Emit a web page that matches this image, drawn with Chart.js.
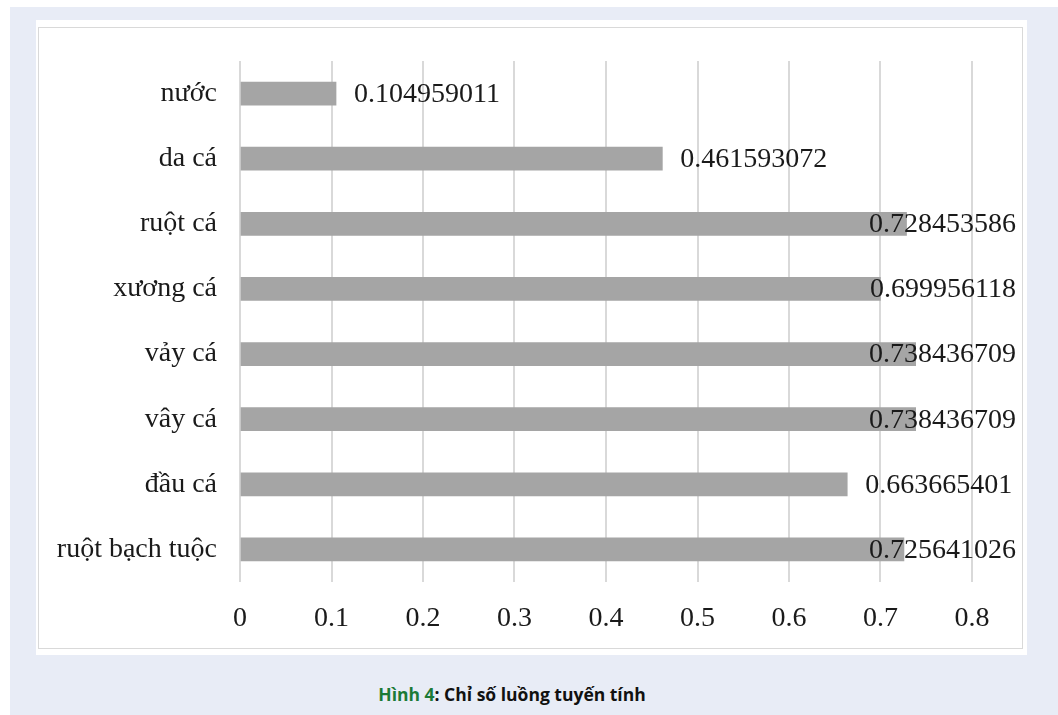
<!DOCTYPE html>
<html lang="vi">
<head>
<meta charset="utf-8">
<title>Chỉ số luồng tuyến tính</title>
<script src="https://cdn.jsdelivr.net/npm/chart.js@4.4.1/dist/chart.umd.min.js"></script>
<style>
  html, body { margin: 0; padding: 0; background: #ffffff; }
  body { width: 1058px; height: 715px; position: relative; overflow: hidden; }
  #frame { position: absolute; left: 10px; top: 7px; width: 1048px; height: 708px; background: #e8ecf6; }
  #panel { position: absolute; left: 36px; top: 20px; width: 991px; height: 635px; background: #ffffff; }
  #border { position: absolute; left: 38px; top: 27px; width: 983px; height: 620px; border: 1px solid #d9d9d9; box-sizing: content-box; }
  #wrap { position: absolute; left: 40px; top: 29px; width: 980px; height: 617px; }
  #chart { display: block; }
  #caption { position: absolute; left: 0; width: 1024px; top: 682px; text-align: center;
             font-family: "Open Sans", "Noto Sans", sans-serif; font-weight: 700; font-size: 17.5px; color: #111111; }
  #caption .num { color: #1c7a37; }
</style>
</head>
<body>
<div id="frame"></div>
<div id="panel"></div>
<div id="border"></div>
<div id="wrap"><canvas id="chart" width="980" height="617"></canvas></div>
<div id="caption"><span class="num">Hình 4</span>: Chỉ số luồng tuyến tính</div>
<script>
// Nguyên liệu (từ trên xuống) và chỉ số luồng tuyến tính tương ứng
const categories = ['nước', 'da cá', 'ruột cá', 'xương cá', 'vảy cá', 'vây cá', 'đầu cá', 'ruột bạch tuộc'];
const values = [0.104959011, 0.461593072, 0.728453586, 0.699956118, 0.738436709, 0.738436709, 0.663665401, 0.725641026];
const valueTexts = ['0.104959011', '0.461593072', '0.728453586', '0.699956118', '0.738436709', '0.738436709', '0.663665401', '0.725641026'];
const tickValues = [0, 0.1, 0.2, 0.3, 0.4, 0.5, 0.6, 0.7, 0.8];

const SERIF = '"Liberation Serif", "Times New Roman", serif';
const FONT_SIZE = 28;

// Nhãn giá trị đặt sau đầu thanh, bị đẩy vào trong nếu vượt lề phải
const valueLabels = {
  id: 'valueLabels',
  afterDatasetsDraw(chart) {
    const ctx = chart.ctx;
    const meta = chart.getDatasetMeta(0);
    const limit = chart.chartArea.right + 44;
    ctx.save();
    ctx.font = FONT_SIZE + 'px ' + SERIF;
    ctx.fillStyle = '#1a1a1a';
    ctx.textBaseline = 'middle';
    ctx.textAlign = 'left';
    meta.data.forEach((bar, i) => {
      const text = valueTexts[i];
      const w = ctx.measureText(text).width;
      let x = bar.x + 18;
      if (x + w > limit) x = limit - w;
      ctx.fillText(text, x, bar.y + 1);
    });
    ctx.restore();
  }
};

new Chart(document.getElementById('chart'), {
  type: 'bar',
  data: {
    labels: categories,
    datasets: [{
      data: values,
      backgroundColor: '#a5a5a5',
      borderWidth: 0,
      barThickness: 23
    }]
  },
  options: {
    indexAxis: 'y',
    responsive: false,
    animation: false,
    layout: { padding: { top: 32, right: 48, bottom: 0, left: 0 } },
    plugins: { legend: { display: false }, tooltip: { enabled: false } },
    scales: {
      x: {
        min: 0,
        max: 0.8,
        afterBuildTicks(scale) { scale.ticks = tickValues.map(v => ({ value: v })); },
        afterFit(scale) { scale.height = 64; scale.paddingLeft = 0; scale.paddingRight = 0; },
        grid: { color: '#d9d9d9', lineWidth: 2, drawTicks: false },
        border: { display: false },
        ticks: {
          padding: 20,
          color: '#1a1a1a',
          font: { family: SERIF, size: FONT_SIZE },
          callback: (v) => String(Math.round(v * 10) / 10)
        }
      },
      y: {
        afterFit(scale) { scale.width = 200; scale.paddingTop = 0; scale.paddingBottom = 0; },
        grid: { display: false, drawTicks: false },
        border: { display: false },
        ticks: {
          padding: 23,
          color: '#1a1a1a',
          font: { family: SERIF, size: FONT_SIZE }
        }
      }
    }
  },
  plugins: [valueLabels]
});
</script>
</body>
</html>
